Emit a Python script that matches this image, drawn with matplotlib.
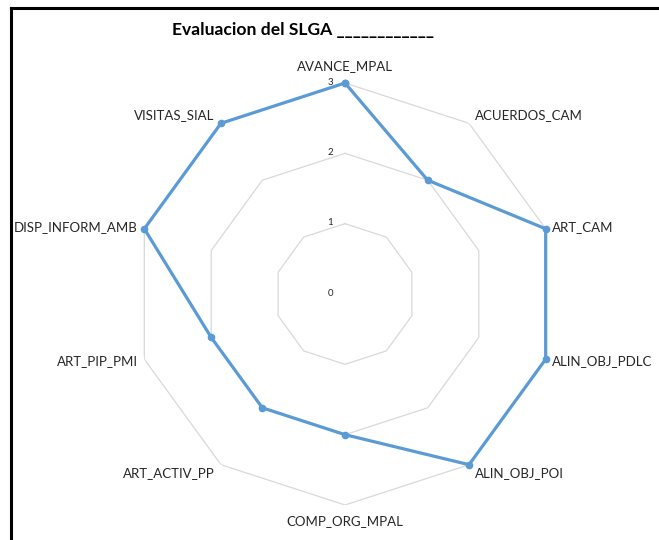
import numpy as np
import matplotlib
matplotlib.use("Agg")
import matplotlib.pyplot as plt
from matplotlib.lines import Line2D

categories = ["AVANCE_MPAL", "ACUERDOS_CAM", "ART_CAM", "ALIN_OBJ_PDLC", "ALIN_OBJ_POI",
              "COMP_ORG_MPAL", "ART_ACTIV_PP", "ART_PIP_PMI", "DISP_INFORM_AMB", "VISITAS_SIAL"]
values = [3, 2, 3, 3, 3, 2, 2, 2, 3, 3]
ticks = [0, 1, 2, 3]
title = "Evaluacion del SLGA ____________"

plt.rcParams['font.family'] = ['Lato', 'DejaVu Sans']

W, H = 659, 540
fig = plt.figure(figsize=(W / 100, H / 100), dpi=100)

cx, cy, R = 345, 294, 211
ax = fig.add_axes([(cx - R) / W, 1 - (cy + R) / H, 2 * R / W, 2 * R / H], projection='polar')
ax.set_theta_zero_location('N')
ax.set_theta_direction(-1)
ax.set_ylim(0, 3)
ax.grid(False)
ax.spines['polar'].set_visible(False)
ax.set_xticks([])
ax.set_yticks([])
ax.patch.set_alpha(0)

n = len(categories)
angles = np.arange(n) * 2 * np.pi / n
closed = np.append(angles, angles[0])

for t in ticks[1:]:
    ax.plot(closed, [t] * (n + 1), color='#D9D9D9', lw=0.9, zorder=1)

vals = values + values[:1]
ax.plot(closed, vals, color='#5B9BD5', lw=2.3, marker='o', markersize=4.5, zorder=3, clip_on=False)

for t in ticks:
    ax.annotate(str(t), xy=(0, t), xytext=(-10.5, 0.5), textcoords='offset points',
                ha='center', va='center', fontsize=7, color='#262626')

fs = 9.5
for i, (a, lab) in enumerate(zip(angles, categories)):
    deg = np.degrees(a)
    if abs(deg) < 1:
        ax.text(a, 3.24, lab, ha='center', va='center', fontsize=fs, color='#262626')
    elif abs(deg - 180) < 1:
        ax.text(a, 3.23, lab, ha='center', va='center', fontsize=fs, color='#262626')
    else:
        ha = 'left' if deg < 180 else 'right'
        m = deg % 180
        r = 3.15 if (abs(m - 36) < 1 or abs(m - 144) < 1) else 3.1
        ax.text(a, r, lab, ha=ha, va='center', fontsize=fs, color='#262626')

fig.text(172 / W, 1 - 30 / H, title, ha='left', va='center', fontsize=12.6, fontweight='bold', color='black')

fig.add_artist(Line2D([10.5 / W, 10.5 / W], [0, 1 - 7.5 / H], color='black', lw=2.2, transform=fig.transFigure))
fig.add_artist(Line2D([10.5 / W, 1], [1 - 7.5 / H, 1 - 7.5 / H], color='black', lw=2.2, transform=fig.transFigure))

fig.savefig("out.png", dpi=100)
